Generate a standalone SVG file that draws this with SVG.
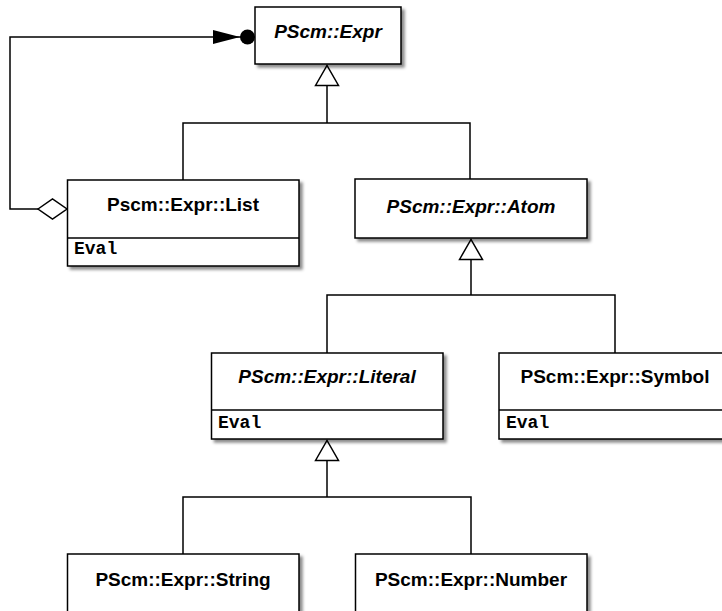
<svg xmlns="http://www.w3.org/2000/svg" width="722" height="611" viewBox="0 0 722 611">
  <defs>
    <filter id="shadow" x="-10%" y="-10%" width="130%" height="140%">
      <feDropShadow dx="3" dy="3" stdDeviation="1.6" flood-color="#000" flood-opacity="0.45"/>
    </filter>
    <!-- hollow generalization triangle -->
    <marker id="gen" viewBox="-1 -13 23 26" refX="20" refY="0" markerWidth="23" markerHeight="26" markerUnits="userSpaceOnUse" orient="auto">
      <path d="M0,-11.5 L20,0 L0,11.5 Z" fill="#fff" stroke="#000" stroke-width="1.5" stroke-linejoin="miter"/>
    </marker>
    <!-- arrow plus filled ball at the navigable end -->
    <marker id="ball" viewBox="-44 -9 45 18" refX="0" refY="0" markerWidth="45" markerHeight="18" markerUnits="userSpaceOnUse" orient="auto">
      <path d="M-42,-7 L-15,0 L-42,7 Z" fill="#000"/>
      <circle cx="-7.5" cy="0" r="7.5" fill="#000"/>
    </marker>
  </defs>
  <style>
    .box { fill: #fff; stroke: #000; stroke-width: 1.5; filter: url(#shadow); }
    .sep { stroke: #000; stroke-width: 1.5; }
    .name { font-family: "Liberation Sans", Arial, Helvetica, sans-serif; font-weight: bold; font-size: 19px; text-anchor: middle; fill: #000; }
    .abstract { font-style: italic; }
    .op { font-family: "Liberation Mono", "Courier New", monospace; font-weight: bold; font-size: 18px; fill: #000; }
    .edge { fill: none; stroke: #000; stroke-width: 1.5; }
  </style>

  <rect width="722" height="611" fill="#fff"/>

  <g id="connectors">
    <!-- inheritance -->
    <path class="edge" d="M183 180 V123 H470 V179" />
    <path class="edge" d="M327 123 V65.5" marker-end="url(#gen)"/>
    <path class="edge" d="M327 353 V295 H615 V353" />
    <path class="edge" d="M471 295 V239.5" marker-end="url(#gen)"/>
    <path class="edge" d="M183 554 V497 H471 V554" />
    <path class="edge" d="M327 497 V440.5" marker-end="url(#gen)"/>
    <!-- aggregation List -> Expr -->
    <path class="edge" d="M38 209 H10 V37 H255" marker-end="url(#ball)"/>
    <polygon points="38,209 52.5,199 67,209 52.5,219" fill="#fff" stroke="#000" stroke-width="1.5"/>
  </g>

  <g id="expr">
    <rect class="box" x="255" y="7" width="146" height="57"/>
    <text class="name abstract" x="328" y="38">PScm::Expr</text>
  </g>

  <g id="list">
    <rect class="box" x="67.5" y="180" width="231.5" height="86"/>
    <line class="sep" x1="67.5" y1="238" x2="299" y2="238"/>
    <text class="name" x="183" y="211">Pscm::Expr::List</text>
    <text class="op" x="74" y="254">Eval</text>
  </g>

  <g id="atom">
    <rect class="box" x="355" y="179" width="232" height="59"/>
    <text class="name abstract" x="471" y="213">PScm::Expr::Atom</text>
  </g>

  <g id="literal">
    <rect class="box" x="211.5" y="353" width="231.5" height="86"/>
    <line class="sep" x1="211.5" y1="410" x2="443" y2="410"/>
    <text class="name abstract" x="327" y="383">PScm::Expr::Literal</text>
    <text class="op" x="218" y="428">Eval</text>
  </g>

  <g id="symbol">
    <rect class="box" x="499" y="353" width="232" height="86"/>
    <line class="sep" x1="499" y1="410" x2="731" y2="410"/>
    <text class="name" x="615" y="383">PScm::Expr::Symbol</text>
    <text class="op" x="506" y="428">Eval</text>
  </g>

  <g id="string">
    <rect class="box" x="67.5" y="554" width="231.5" height="86"/>
    <text class="name" x="183" y="586">PScm::Expr::String</text>
  </g>

  <g id="number">
    <rect class="box" x="355.5" y="554" width="231.5" height="86"/>
    <text class="name" x="471" y="586">PScm::Expr::Number</text>
  </g>
</svg>
